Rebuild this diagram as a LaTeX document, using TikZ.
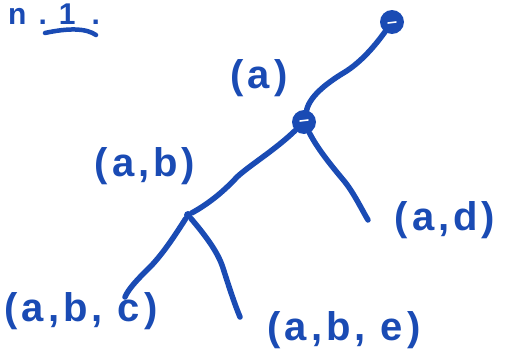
\documentclass[tikz,border=0pt]{standalone}
\usepackage{fontspec}
\setmainfont{Liberation Sans}
\definecolor{ink}{RGB}{26,75,180}
\begin{document}
\begin{tikzpicture}[x=1pt,y=-1pt,
  pen/.style={draw=ink,line width=5.5pt,line cap=round,line join=round},
  lab/.style={text=ink,inner sep=0pt,font=\fontsize{40}{44}\selectfont\bfseries\addfontfeature{LetterSpace=10}},
  blob/.style={circle,fill=ink,inner sep=0pt,minimum size=24pt},
  dot/.style={circle,fill=ink,inner sep=0pt,minimum size=8pt}]
\useasboundingbox (0,0) rectangle (507,359);
% nodes
\node[blob] (r) at (392,22) {};
\node[blob] (m) at (304,122) {};
\node[dot] (j) at (188,215) {};
\coordinate (dl) at (368,220);
\coordinate (cl) at (125,297);
\coordinate (el) at (240,317);
% highlights in blobs
\draw[white,line width=1.6pt,line cap=round] ([shift={(-4,1)}]r.center) -- ([shift={(4,0)}]r.center);
\draw[white,line width=1.6pt,line cap=round] ([shift={(-4,-1)}]m.center) -- ([shift={(4,-2)}]m.center);
% edges
\draw[pen] (r) .. controls (372,50) and (358,64) .. (345,72) .. controls (330,81) and (310,95) .. (m);
\draw[pen] (m) .. controls (275,150) and (250,165) .. (237,177) .. controls (225,190) and (210,203) .. (j);
\draw[pen] (m) .. controls (318,150) and (335,170) .. (345,182) .. controls (355,195) and (362,210) .. (dl);
\draw[pen] (j) .. controls (172,240) and (160,258) .. (145,272) .. controls (135,282) and (128,290) .. (cl);
\draw[pen] (j) .. controls (205,235) and (218,252) .. (223,268) .. controls (230,290) and (235,305) .. (el);
% labels
\node[lab] (la) at (259,78) {(a)};
\node[lab] (lab) at (145,166) {(a,b)};
\node[lab] (lad) at (445,220) {(a,d)};
\node[lab] (labc) at (81,311) {(a,b, c)};
\node[lab] (labe) at (344,330) {(a,b, e)};
% title
\node[lab,anchor=base west,font=\fontsize{30}{34}\selectfont\bfseries] (title) at (8,24) {n\hspace{12pt}.\hspace{12pt}1\hspace{16pt}.};
\draw[pen,line width=4.5pt] (45,33) .. controls (68,28) and (86,28) .. (96,35);
\end{tikzpicture}
\end{document}
